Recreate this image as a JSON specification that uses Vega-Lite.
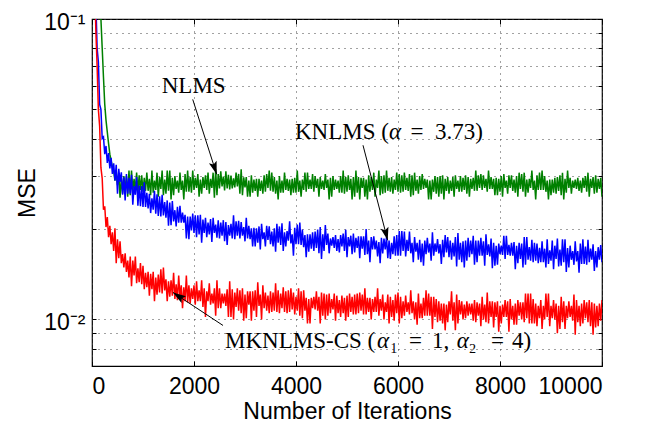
{
"$schema": "https://vega.github.io/schema/vega-lite/v6.json",
"width": 510,
"height": 347,
"autosize": {"type": "none"},
"padding": {"left": 92, "top": 19, "right": 56, "bottom": 59},
"background": "white",
"config": {"view": {"stroke": "black", "strokeWidth": 1.2}, "font": "Liberation Sans"},
"datasets": {
"mse": [
{"i":0,"nlms":0.6,"knlms":0.5,"mk":0.45},
{"i":25,"nlms":0.45,"knlms":0.3,"mk":0.25},
{"i":50,"nlms":0.35,"knlms":0.17,"mk":0.14},
{"i":75,"nlms":0.27,"knlms":0.115,"mk":0.092},
{"i":100,"nlms":0.21,"knlms":0.08,"mk":0.07},
{"i":125,"nlms":0.165,"knlms":0.072,"mk":0.05},
{"i":150,"nlms":0.13,"knlms":0.052,"mk":0.044},
{"i":175,"nlms":0.1,"knlms":0.05,"mk":0.032},
{"i":200,"nlms":0.08,"knlms":0.04,"mk":0.0295},
{"i":225,"nlms":0.064,"knlms":0.0405,"mk":0.0232},
{"i":250,"nlms":0.052,"knlms":0.0355,"mk":0.0238},
{"i":275,"nlms":0.046,"knlms":0.0378,"mk":0.0203},
{"i":300,"nlms":0.042,"knlms":0.0332,"mk":0.0219},
{"i":325,"nlms":0.0385,"knlms":0.0358,"mk":0.0188},
{"i":350,"nlms":0.0355,"knlms":0.0318,"mk":0.0205},
{"i":375,"nlms":0.0338,"knlms":0.0345,"mk":0.0178},
{"i":400,"nlms":0.0322,"knlms":0.0305,"mk":0.0195},
{"i":425,"nlms":0.0312,"knlms":0.0331,"mk":0.0169},
{"i":450,"nlms":0.029,"knlms":0.029,"mk":0.0201},
{"i":475,"nlms":0.0311,"knlms":0.0327,"mk":0.0154},
{"i":500,"nlms":0.028,"knlms":0.0262,"mk":0.0185},
{"i":525,"nlms":0.0305,"knlms":0.0317,"mk":0.016},
{"i":550,"nlms":0.0254,"knlms":0.0287,"mk":0.0182},
{"i":575,"nlms":0.0296,"knlms":0.0309,"mk":0.0154},
{"i":600,"nlms":0.0262,"knlms":0.026,"mk":0.0165},
{"i":625,"nlms":0.03,"knlms":0.0297,"mk":0.0149},
{"i":650,"nlms":0.0268,"knlms":0.0249,"mk":0.0166},
{"i":675,"nlms":0.03,"knlms":0.0305,"mk":0.0144},
{"i":700,"nlms":0.0256,"knlms":0.0262,"mk":0.0157},
{"i":725,"nlms":0.0313,"knlms":0.0296,"mk":0.0138},
{"i":750,"nlms":0.0259,"knlms":0.0262,"mk":0.0162},
{"i":775,"nlms":0.0313,"knlms":0.0303,"mk":0.0129},
{"i":800,"nlms":0.0268,"knlms":0.0241,"mk":0.0157},
{"i":825,"nlms":0.0294,"knlms":0.0278,"mk":0.014},
{"i":850,"nlms":0.0268,"knlms":0.026,"mk":0.0162},
{"i":875,"nlms":0.0308,"knlms":0.0298,"mk":0.0132},
{"i":900,"nlms":0.0266,"knlms":0.0239,"mk":0.0148},
{"i":925,"nlms":0.0302,"knlms":0.0279,"mk":0.0133},
{"i":950,"nlms":0.027,"knlms":0.0238,"mk":0.0154},
{"i":975,"nlms":0.0302,"knlms":0.0278,"mk":0.0131},
{"i":1000,"nlms":0.0266,"knlms":0.0237,"mk":0.0151},
{"i":1025,"nlms":0.0296,"knlms":0.0286,"mk":0.0126},
{"i":1050,"nlms":0.0268,"knlms":0.0237,"mk":0.0143},
{"i":1075,"nlms":0.0308,"knlms":0.0264,"mk":0.0128},
{"i":1100,"nlms":0.0268,"knlms":0.0234,"mk":0.0144},
{"i":1125,"nlms":0.0294,"knlms":0.0262,"mk":0.012},
{"i":1150,"nlms":0.0259,"knlms":0.0226,"mk":0.0142},
{"i":1175,"nlms":0.0313,"knlms":0.0253,"mk":0.0126},
{"i":1200,"nlms":0.0264,"knlms":0.0232,"mk":0.0144},
{"i":1225,"nlms":0.029,"knlms":0.0268,"mk":0.0115},
{"i":1250,"nlms":0.027,"knlms":0.0225,"mk":0.0138},
{"i":1275,"nlms":0.0308,"knlms":0.0261,"mk":0.0121},
{"i":1300,"nlms":0.0256,"knlms":0.0221,"mk":0.0141},
{"i":1325,"nlms":0.0298,"knlms":0.0257,"mk":0.0123},
{"i":1350,"nlms":0.0272,"knlms":0.022,"mk":0.0147},
{"i":1375,"nlms":0.0313,"knlms":0.026,"mk":0.0122},
{"i":1400,"nlms":0.0259,"knlms":0.0222,"mk":0.0149},
{"i":1425,"nlms":0.0292,"knlms":0.0246,"mk":0.0125},
{"i":1450,"nlms":0.0262,"knlms":0.0218,"mk":0.0136},
{"i":1475,"nlms":0.0313,"knlms":0.0249,"mk":0.0115},
{"i":1500,"nlms":0.0268,"knlms":0.0205,"mk":0.0134},
{"i":1525,"nlms":0.0313,"knlms":0.0245,"mk":0.0119},
{"i":1550,"nlms":0.0251,"knlms":0.0206,"mk":0.0135},
{"i":1575,"nlms":0.0296,"knlms":0.0248,"mk":0.012},
{"i":1600,"nlms":0.0259,"knlms":0.0212,"mk":0.0143},
{"i":1625,"nlms":0.03,"knlms":0.0231,"mk":0.0117},
{"i":1650,"nlms":0.0272,"knlms":0.0204,"mk":0.0131},
{"i":1675,"nlms":0.029,"knlms":0.0237,"mk":0.0116},
{"i":1700,"nlms":0.0264,"knlms":0.021,"mk":0.014},
{"i":1725,"nlms":0.0308,"knlms":0.0239,"mk":0.0119},
{"i":1750,"nlms":0.027,"knlms":0.021,"mk":0.013},
{"i":1775,"nlms":0.029,"knlms":0.0227,"mk":0.0109},
{"i":1800,"nlms":0.0251,"knlms":0.021,"mk":0.0128},
{"i":1825,"nlms":0.0305,"knlms":0.0223,"mk":0.0115},
{"i":1850,"nlms":0.0266,"knlms":0.0186,"mk":0.014},
{"i":1875,"nlms":0.0313,"knlms":0.022,"mk":0.0114},
{"i":1900,"nlms":0.0266,"knlms":0.0185,"mk":0.013},
{"i":1925,"nlms":0.0298,"knlms":0.022,"mk":0.0113},
{"i":1950,"nlms":0.0264,"knlms":0.0198,"mk":0.0127},
{"i":1975,"nlms":0.0313,"knlms":0.0225,"mk":0.0117},
{"i":2000,"nlms":0.027,"knlms":0.0194,"mk":0.013},
{"i":2025,"nlms":0.0296,"knlms":0.0222,"mk":0.0112},
{"i":2050,"nlms":0.0274,"knlms":0.0188,"mk":0.0134},
{"i":2075,"nlms":0.0305,"knlms":0.0222,"mk":0.0115},
{"i":2100,"nlms":0.0256,"knlms":0.0192,"mk":0.0125},
{"i":2125,"nlms":0.0292,"knlms":0.0223,"mk":0.0115},
{"i":2150,"nlms":0.0262,"knlms":0.018,"mk":0.0135},
{"i":2175,"nlms":0.0298,"knlms":0.0215,"mk":0.011},
{"i":2200,"nlms":0.0274,"knlms":0.0194,"mk":0.0127},
{"i":2225,"nlms":0.0302,"knlms":0.0218,"mk":0.0102},
{"i":2250,"nlms":0.027,"knlms":0.0188,"mk":0.0124},
{"i":2275,"nlms":0.0308,"knlms":0.021,"mk":0.0115},
{"i":2300,"nlms":0.0262,"knlms":0.0192,"mk":0.0132},
{"i":2325,"nlms":0.0294,"knlms":0.0216,"mk":0.0112},
{"i":2350,"nlms":0.0274,"knlms":0.0181,"mk":0.0122},
{"i":2375,"nlms":0.0308,"knlms":0.0218,"mk":0.0113},
{"i":2400,"nlms":0.0254,"knlms":0.0194,"mk":0.0127},
{"i":2425,"nlms":0.0316,"knlms":0.0207,"mk":0.0103},
{"i":2450,"nlms":0.0259,"knlms":0.0187,"mk":0.0135},
{"i":2475,"nlms":0.0305,"knlms":0.0214,"mk":0.0109},
{"i":2500,"nlms":0.0273,"knlms":0.0186,"mk":0.0127},
{"i":2525,"nlms":0.0311,"knlms":0.021,"mk":0.0109},
{"i":2550,"nlms":0.0277,"knlms":0.019,"mk":0.0122},
{"i":2575,"nlms":0.0299,"knlms":0.0214,"mk":0.0113},
{"i":2600,"nlms":0.0269,"knlms":0.0182,"mk":0.0122},
{"i":2625,"nlms":0.0311,"knlms":0.0211,"mk":0.0111},
{"i":2650,"nlms":0.0273,"knlms":0.0177,"mk":0.0126},
{"i":2675,"nlms":0.0303,"knlms":0.0206,"mk":0.0102},
{"i":2700,"nlms":0.0271,"knlms":0.019,"mk":0.0134},
{"i":2725,"nlms":0.0301,"knlms":0.0208,"mk":0.0102},
{"i":2750,"nlms":0.0273,"knlms":0.0186,"mk":0.0126},
{"i":2775,"nlms":0.0295,"knlms":0.0222,"mk":0.01},
{"i":2800,"nlms":0.0275,"knlms":0.0185,"mk":0.0123},
{"i":2825,"nlms":0.0308,"knlms":0.0212,"mk":0.011},
{"i":2850,"nlms":0.0277,"knlms":0.019,"mk":0.0127},
{"i":2875,"nlms":0.0305,"knlms":0.0213,"mk":0.0107},
{"i":2900,"nlms":0.0262,"knlms":0.0186,"mk":0.0125},
{"i":2925,"nlms":0.0316,"knlms":0.0211,"mk":0.0105},
{"i":2950,"nlms":0.0259,"knlms":0.019,"mk":0.0127},
{"i":2975,"nlms":0.0297,"knlms":0.0203,"mk":0.0099},
{"i":3000,"nlms":0.0275,"knlms":0.0182,"mk":0.0121},
{"i":3025,"nlms":0.0298,"knlms":0.0218,"mk":0.0101},
{"i":3050,"nlms":0.0256,"knlms":0.0186,"mk":0.0124},
{"i":3075,"nlms":0.029,"knlms":0.0205,"mk":0.0112},
{"i":3100,"nlms":0.0256,"knlms":0.0185,"mk":0.0124},
{"i":3125,"nlms":0.0302,"knlms":0.0201,"mk":0.0099},
{"i":3150,"nlms":0.0264,"knlms":0.0175,"mk":0.0124},
{"i":3175,"nlms":0.0292,"knlms":0.0202,"mk":0.0107},
{"i":3200,"nlms":0.0268,"knlms":0.0175,"mk":0.0125},
{"i":3225,"nlms":0.0294,"knlms":0.0201,"mk":0.0102},
{"i":3250,"nlms":0.0256,"knlms":0.018,"mk":0.0133},
{"i":3275,"nlms":0.0294,"knlms":0.0204,"mk":0.0111},
{"i":3300,"nlms":0.0268,"knlms":0.0171,"mk":0.0121},
{"i":3325,"nlms":0.029,"knlms":0.0208,"mk":0.01},
{"i":3350,"nlms":0.0262,"knlms":0.0185,"mk":0.013},
{"i":3375,"nlms":0.0302,"knlms":0.0195,"mk":0.0109},
{"i":3400,"nlms":0.0266,"knlms":0.0175,"mk":0.0123},
{"i":3425,"nlms":0.0305,"knlms":0.0205,"mk":0.0107},
{"i":3450,"nlms":0.0274,"knlms":0.0184,"mk":0.012},
{"i":3475,"nlms":0.0313,"knlms":0.0204,"mk":0.0105},
{"i":3500,"nlms":0.0268,"knlms":0.0178,"mk":0.0124},
{"i":3525,"nlms":0.0308,"knlms":0.0196,"mk":0.0106},
{"i":3550,"nlms":0.0266,"knlms":0.0175,"mk":0.0123},
{"i":3575,"nlms":0.0298,"knlms":0.0201,"mk":0.0107},
{"i":3600,"nlms":0.0262,"knlms":0.0168,"mk":0.0132},
{"i":3625,"nlms":0.029,"knlms":0.0208,"mk":0.0106},
{"i":3650,"nlms":0.0251,"knlms":0.018,"mk":0.0125},
{"i":3675,"nlms":0.03,"knlms":0.0204,"mk":0.0105},
{"i":3700,"nlms":0.0264,"knlms":0.0177,"mk":0.0122},
{"i":3725,"nlms":0.029,"knlms":0.0209,"mk":0.0109},
{"i":3750,"nlms":0.0264,"knlms":0.0169,"mk":0.0128},
{"i":3775,"nlms":0.0308,"knlms":0.0195,"mk":0.0106},
{"i":3800,"nlms":0.027,"knlms":0.0175,"mk":0.0124},
{"i":3825,"nlms":0.0294,"knlms":0.0197,"mk":0.0105},
{"i":3850,"nlms":0.0268,"knlms":0.0183,"mk":0.0125},
{"i":3875,"nlms":0.0292,"knlms":0.0212,"mk":0.0106},
{"i":3900,"nlms":0.0259,"knlms":0.0179,"mk":0.0127},
{"i":3925,"nlms":0.0294,"knlms":0.0192,"mk":0.0108},
{"i":3950,"nlms":0.0264,"knlms":0.0163,"mk":0.0123},
{"i":3975,"nlms":0.0296,"knlms":0.0202,"mk":0.0104},
{"i":4000,"nlms":0.0264,"knlms":0.0178,"mk":0.0119},
{"i":4025,"nlms":0.0313,"knlms":0.0207,"mk":0.0107},
{"i":4050,"nlms":0.0266,"knlms":0.0178,"mk":0.0127},
{"i":4075,"nlms":0.029,"knlms":0.021,"mk":0.0103},
{"i":4100,"nlms":0.0256,"knlms":0.0177,"mk":0.0124},
{"i":4125,"nlms":0.0292,"knlms":0.0199,"mk":0.0101},
{"i":4150,"nlms":0.027,"knlms":0.0174,"mk":0.0125},
{"i":4175,"nlms":0.0308,"knlms":0.0191,"mk":0.0107},
{"i":4200,"nlms":0.0266,"knlms":0.0161,"mk":0.0118},
{"i":4225,"nlms":0.0308,"knlms":0.0192,"mk":0.0097},
{"i":4250,"nlms":0.0272,"knlms":0.0168,"mk":0.0117},
{"i":4275,"nlms":0.0292,"knlms":0.0192,"mk":0.0097},
{"i":4300,"nlms":0.0272,"knlms":0.0172,"mk":0.0118},
{"i":4325,"nlms":0.0305,"knlms":0.0195,"mk":0.0109},
{"i":4350,"nlms":0.0266,"knlms":0.0169,"mk":0.0119},
{"i":4375,"nlms":0.03,"knlms":0.0196,"mk":0.0108},
{"i":4400,"nlms":0.0274,"knlms":0.0173,"mk":0.0124},
{"i":4425,"nlms":0.0294,"knlms":0.0199,"mk":0.0107},
{"i":4450,"nlms":0.0256,"knlms":0.0166,"mk":0.0119},
{"i":4475,"nlms":0.0298,"knlms":0.0203,"mk":0.0097},
{"i":4500,"nlms":0.0272,"knlms":0.0159,"mk":0.0123},
{"i":4525,"nlms":0.029,"knlms":0.0192,"mk":0.0103},
{"i":4550,"nlms":0.027,"knlms":0.0169,"mk":0.0122},
{"i":4575,"nlms":0.0305,"knlms":0.0206,"mk":0.01},
{"i":4600,"nlms":0.0274,"knlms":0.0177,"mk":0.0121},
{"i":4625,"nlms":0.0292,"knlms":0.0193,"mk":0.0103},
{"i":4650,"nlms":0.0251,"knlms":0.0166,"mk":0.0122},
{"i":4675,"nlms":0.0296,"knlms":0.0186,"mk":0.0105},
{"i":4700,"nlms":0.0256,"knlms":0.0176,"mk":0.0117},
{"i":4725,"nlms":0.03,"knlms":0.0188,"mk":0.0108},
{"i":4750,"nlms":0.027,"knlms":0.0173,"mk":0.0122},
{"i":4775,"nlms":0.0292,"knlms":0.0191,"mk":0.0099},
{"i":4800,"nlms":0.0272,"knlms":0.0169,"mk":0.012},
{"i":4825,"nlms":0.029,"knlms":0.0185,"mk":0.0105},
{"i":4850,"nlms":0.0264,"knlms":0.0167,"mk":0.0116},
{"i":4875,"nlms":0.03,"knlms":0.0191,"mk":0.0102},
{"i":4900,"nlms":0.0264,"knlms":0.0175,"mk":0.012},
{"i":4925,"nlms":0.0313,"knlms":0.0193,"mk":0.0105},
{"i":4950,"nlms":0.0262,"knlms":0.0169,"mk":0.0118},
{"i":4975,"nlms":0.0298,"knlms":0.0199,"mk":0.0099},
{"i":5000,"nlms":0.0266,"knlms":0.0161,"mk":0.012},
{"i":5025,"nlms":0.0302,"knlms":0.0188,"mk":0.0102},
{"i":5050,"nlms":0.027,"knlms":0.0175,"mk":0.0122},
{"i":5075,"nlms":0.0294,"knlms":0.019,"mk":0.0106},
{"i":5100,"nlms":0.0251,"knlms":0.0165,"mk":0.0119},
{"i":5125,"nlms":0.0298,"knlms":0.0193,"mk":0.0104},
{"i":5150,"nlms":0.0256,"knlms":0.0167,"mk":0.0121},
{"i":5175,"nlms":0.0313,"knlms":0.0187,"mk":0.0104},
{"i":5200,"nlms":0.0264,"knlms":0.0173,"mk":0.0122},
{"i":5225,"nlms":0.0298,"knlms":0.0189,"mk":0.0105},
{"i":5250,"nlms":0.0251,"knlms":0.016,"mk":0.0123},
{"i":5275,"nlms":0.0296,"knlms":0.0189,"mk":0.0107},
{"i":5300,"nlms":0.0274,"knlms":0.0172,"mk":0.0121},
{"i":5325,"nlms":0.0296,"knlms":0.0189,"mk":0.0104},
{"i":5350,"nlms":0.0256,"knlms":0.0164,"mk":0.0127},
{"i":5375,"nlms":0.0292,"knlms":0.02,"mk":0.0104},
{"i":5400,"nlms":0.0251,"knlms":0.0165,"mk":0.0118},
{"i":5425,"nlms":0.0302,"knlms":0.0183,"mk":0.0106},
{"i":5450,"nlms":0.0266,"knlms":0.0155,"mk":0.0118},
{"i":5475,"nlms":0.0298,"knlms":0.0188,"mk":0.01},
{"i":5500,"nlms":0.027,"knlms":0.0171,"mk":0.0117},
{"i":5525,"nlms":0.0308,"knlms":0.0189,"mk":0.0106},
{"i":5550,"nlms":0.0256,"knlms":0.0171,"mk":0.0119},
{"i":5575,"nlms":0.0292,"knlms":0.0183,"mk":0.0106},
{"i":5600,"nlms":0.0274,"knlms":0.0162,"mk":0.0127},
{"i":5625,"nlms":0.0313,"knlms":0.0181,"mk":0.0103},
{"i":5650,"nlms":0.0259,"knlms":0.0154,"mk":0.0117},
{"i":5675,"nlms":0.03,"knlms":0.0187,"mk":0.0107},
{"i":5700,"nlms":0.0262,"knlms":0.0166,"mk":0.0121},
{"i":5725,"nlms":0.0302,"knlms":0.0186,"mk":0.01},
{"i":5750,"nlms":0.0264,"knlms":0.0171,"mk":0.0114},
{"i":5775,"nlms":0.0313,"knlms":0.0188,"mk":0.0106},
{"i":5800,"nlms":0.0268,"knlms":0.016,"mk":0.0121},
{"i":5825,"nlms":0.0296,"knlms":0.0183,"mk":0.0097},
{"i":5850,"nlms":0.0266,"knlms":0.0159,"mk":0.0119},
{"i":5875,"nlms":0.0298,"knlms":0.018,"mk":0.0102},
{"i":5900,"nlms":0.0262,"knlms":0.0165,"mk":0.0116},
{"i":5925,"nlms":0.0292,"knlms":0.0189,"mk":0.0099},
{"i":5950,"nlms":0.027,"knlms":0.0163,"mk":0.0121},
{"i":5975,"nlms":0.0308,"knlms":0.0191,"mk":0.0105},
{"i":6000,"nlms":0.0266,"knlms":0.0163,"mk":0.0123},
{"i":6025,"nlms":0.0305,"knlms":0.0197,"mk":0.0097},
{"i":6050,"nlms":0.0264,"knlms":0.0163,"mk":0.0119},
{"i":6075,"nlms":0.0302,"knlms":0.0197,"mk":0.0101},
{"i":6100,"nlms":0.0266,"knlms":0.0169,"mk":0.0115},
{"i":6125,"nlms":0.0308,"knlms":0.0196,"mk":0.0103},
{"i":6150,"nlms":0.027,"knlms":0.0162,"mk":0.012},
{"i":6175,"nlms":0.0296,"knlms":0.0184,"mk":0.0106},
{"i":6200,"nlms":0.0268,"knlms":0.0169,"mk":0.0114},
{"i":6225,"nlms":0.0305,"knlms":0.0196,"mk":0.0104},
{"i":6250,"nlms":0.0256,"knlms":0.0166,"mk":0.0125},
{"i":6275,"nlms":0.0302,"knlms":0.018,"mk":0.0105},
{"i":6300,"nlms":0.0259,"knlms":0.0155,"mk":0.0115},
{"i":6325,"nlms":0.0308,"knlms":0.0188,"mk":0.01},
{"i":6350,"nlms":0.0268,"knlms":0.0168,"mk":0.0114},
{"i":6375,"nlms":0.0292,"knlms":0.018,"mk":0.0096},
{"i":6400,"nlms":0.0262,"knlms":0.0158,"mk":0.0122},
{"i":6425,"nlms":0.03,"knlms":0.0184,"mk":0.0101},
{"i":6450,"nlms":0.027,"knlms":0.0155,"mk":0.0113},
{"i":6475,"nlms":0.0305,"knlms":0.0179,"mk":0.0101},
{"i":6500,"nlms":0.0272,"knlms":0.0151,"mk":0.0118},
{"i":6525,"nlms":0.0294,"knlms":0.0183,"mk":0.0103},
{"i":6550,"nlms":0.0274,"knlms":0.0165,"mk":0.0125},
{"i":6575,"nlms":0.0292,"knlms":0.0187,"mk":0.0103},
{"i":6600,"nlms":0.0251,"knlms":0.0167,"mk":0.0122},
{"i":6625,"nlms":0.029,"knlms":0.0179,"mk":0.0103},
{"i":6650,"nlms":0.0251,"knlms":0.0157,"mk":0.0119},
{"i":6675,"nlms":0.0292,"knlms":0.0195,"mk":0.0093},
{"i":6700,"nlms":0.0266,"knlms":0.0163,"mk":0.0119},
{"i":6725,"nlms":0.03,"knlms":0.0179,"mk":0.0102},
{"i":6750,"nlms":0.0262,"knlms":0.0168,"mk":0.0117},
{"i":6775,"nlms":0.0298,"knlms":0.0185,"mk":0.0098},
{"i":6800,"nlms":0.0256,"knlms":0.0166,"mk":0.0115},
{"i":6825,"nlms":0.03,"knlms":0.0178,"mk":0.0099},
{"i":6850,"nlms":0.0262,"knlms":0.0153,"mk":0.0113},
{"i":6875,"nlms":0.0302,"knlms":0.0184,"mk":0.0097},
{"i":6900,"nlms":0.0251,"knlms":0.0161,"mk":0.0113},
{"i":6925,"nlms":0.0294,"knlms":0.0191,"mk":0.0092},
{"i":6950,"nlms":0.0268,"knlms":0.0167,"mk":0.0112},
{"i":6975,"nlms":0.0298,"knlms":0.0188,"mk":0.0098},
{"i":7000,"nlms":0.0262,"knlms":0.0161,"mk":0.0115},
{"i":7025,"nlms":0.029,"knlms":0.0183,"mk":0.0104},
{"i":7050,"nlms":0.0268,"knlms":0.0158,"mk":0.0124},
{"i":7075,"nlms":0.0298,"knlms":0.018,"mk":0.0099},
{"i":7100,"nlms":0.0256,"knlms":0.0162,"mk":0.0114},
{"i":7125,"nlms":0.0302,"knlms":0.0188,"mk":0.0092},
{"i":7150,"nlms":0.0272,"knlms":0.015,"mk":0.0121},
{"i":7175,"nlms":0.029,"knlms":0.0194,"mk":0.0097},
{"i":7200,"nlms":0.0266,"knlms":0.0158,"mk":0.0116},
{"i":7225,"nlms":0.03,"knlms":0.018,"mk":0.0104},
{"i":7250,"nlms":0.0266,"knlms":0.0155,"mk":0.0115},
{"i":7275,"nlms":0.0296,"knlms":0.0182,"mk":0.01},
{"i":7300,"nlms":0.027,"knlms":0.0149,"mk":0.0112},
{"i":7325,"nlms":0.0302,"knlms":0.0183,"mk":0.0101},
{"i":7350,"nlms":0.0262,"knlms":0.0157,"mk":0.0115},
{"i":7375,"nlms":0.0298,"knlms":0.0187,"mk":0.0103},
{"i":7400,"nlms":0.0256,"knlms":0.0161,"mk":0.0113},
{"i":7425,"nlms":0.0294,"knlms":0.0183,"mk":0.0104},
{"i":7450,"nlms":0.0272,"knlms":0.0165,"mk":0.0113},
{"i":7475,"nlms":0.0296,"knlms":0.019,"mk":0.0099},
{"i":7500,"nlms":0.0268,"knlms":0.0152,"mk":0.0116},
{"i":7525,"nlms":0.0313,"knlms":0.0183,"mk":0.0098},
{"i":7550,"nlms":0.0268,"knlms":0.0155,"mk":0.0114},
{"i":7575,"nlms":0.0302,"knlms":0.0183,"mk":0.0103},
{"i":7600,"nlms":0.0274,"knlms":0.0163,"mk":0.0113},
{"i":7625,"nlms":0.0305,"knlms":0.0187,"mk":0.0095},
{"i":7650,"nlms":0.027,"knlms":0.0163,"mk":0.0119},
{"i":7675,"nlms":0.0302,"knlms":0.0182,"mk":0.01},
{"i":7700,"nlms":0.0274,"knlms":0.0151,"mk":0.0112},
{"i":7725,"nlms":0.0294,"knlms":0.0192,"mk":0.0098},
{"i":7750,"nlms":0.0266,"knlms":0.0164,"mk":0.0123},
{"i":7775,"nlms":0.0313,"knlms":0.0178,"mk":0.0097},
{"i":7800,"nlms":0.0272,"knlms":0.0162,"mk":0.0115},
{"i":7825,"nlms":0.0298,"knlms":0.0186,"mk":0.0102},
{"i":7850,"nlms":0.0272,"knlms":0.0148,"mk":0.0115},
{"i":7875,"nlms":0.0294,"knlms":0.018,"mk":0.0094},
{"i":7900,"nlms":0.0259,"knlms":0.0151,"mk":0.0114},
{"i":7925,"nlms":0.0296,"knlms":0.0176,"mk":0.0102},
{"i":7950,"nlms":0.0259,"knlms":0.0152,"mk":0.0115},
{"i":7975,"nlms":0.0294,"knlms":0.0179,"mk":0.0091},
{"i":8000,"nlms":0.0266,"knlms":0.0165,"mk":0.0111},
{"i":8025,"nlms":0.03,"knlms":0.0176,"mk":0.0097},
{"i":8050,"nlms":0.0256,"knlms":0.0164,"mk":0.0112},
{"i":8075,"nlms":0.0305,"knlms":0.019,"mk":0.0102},
{"i":8100,"nlms":0.0274,"knlms":0.0159,"mk":0.0116},
{"i":8125,"nlms":0.029,"knlms":0.019,"mk":0.0102},
{"i":8150,"nlms":0.0262,"knlms":0.0164,"mk":0.0115},
{"i":8175,"nlms":0.0302,"knlms":0.0177,"mk":0.0091},
{"i":8200,"nlms":0.0274,"knlms":0.0163,"mk":0.0117},
{"i":8225,"nlms":0.0302,"knlms":0.018,"mk":0.01},
{"i":8250,"nlms":0.0268,"knlms":0.0163,"mk":0.0111},
{"i":8275,"nlms":0.0292,"knlms":0.0181,"mk":0.0096},
{"i":8300,"nlms":0.0264,"knlms":0.0147,"mk":0.0113},
{"i":8325,"nlms":0.03,"knlms":0.0176,"mk":0.0096},
{"i":8350,"nlms":0.0256,"knlms":0.0154,"mk":0.0116},
{"i":8375,"nlms":0.0308,"knlms":0.018,"mk":0.0103},
{"i":8400,"nlms":0.0272,"knlms":0.0159,"mk":0.0114},
{"i":8425,"nlms":0.0305,"knlms":0.0179,"mk":0.01},
{"i":8450,"nlms":0.0266,"knlms":0.0149,"mk":0.0114},
{"i":8475,"nlms":0.0308,"knlms":0.0188,"mk":0.0098},
{"i":8500,"nlms":0.0256,"knlms":0.0152,"mk":0.0122},
{"i":8525,"nlms":0.0292,"knlms":0.0188,"mk":0.0101},
{"i":8550,"nlms":0.0264,"knlms":0.0158,"mk":0.0122},
{"i":8575,"nlms":0.0294,"knlms":0.0174,"mk":0.0097},
{"i":8600,"nlms":0.0274,"knlms":0.0157,"mk":0.0122},
{"i":8625,"nlms":0.0313,"knlms":0.0184,"mk":0.0097},
{"i":8650,"nlms":0.027,"knlms":0.0155,"mk":0.0117},
{"i":8675,"nlms":0.029,"knlms":0.018,"mk":0.0097},
{"i":8700,"nlms":0.0251,"knlms":0.0157,"mk":0.0113},
{"i":8725,"nlms":0.0302,"knlms":0.0179,"mk":0.0095},
{"i":8750,"nlms":0.027,"knlms":0.0154,"mk":0.0111},
{"i":8775,"nlms":0.0308,"knlms":0.0173,"mk":0.0101},
{"i":8800,"nlms":0.027,"knlms":0.0155,"mk":0.0116},
{"i":8825,"nlms":0.0313,"knlms":0.0182,"mk":0.0093},
{"i":8850,"nlms":0.027,"knlms":0.0155,"mk":0.0111},
{"i":8875,"nlms":0.03,"knlms":0.0172,"mk":0.01},
{"i":8900,"nlms":0.0266,"knlms":0.0149,"mk":0.0122},
{"i":8925,"nlms":0.029,"knlms":0.0185,"mk":0.0102},
{"i":8950,"nlms":0.0251,"knlms":0.0153,"mk":0.0122},
{"i":8975,"nlms":0.0292,"knlms":0.017,"mk":0.0095},
{"i":9000,"nlms":0.0259,"knlms":0.0157,"mk":0.0111},
{"i":9025,"nlms":0.0292,"knlms":0.0183,"mk":0.0101},
{"i":9050,"nlms":0.0264,"knlms":0.0147,"mk":0.0116},
{"i":9075,"nlms":0.0296,"knlms":0.0176,"mk":0.01},
{"i":9100,"nlms":0.0262,"knlms":0.0159,"mk":0.0113},
{"i":9125,"nlms":0.0298,"knlms":0.0186,"mk":0.009},
{"i":9150,"nlms":0.0268,"knlms":0.015,"mk":0.0111},
{"i":9175,"nlms":0.0302,"knlms":0.0171,"mk":0.0093},
{"i":9200,"nlms":0.0259,"knlms":0.0151,"mk":0.0119},
{"i":9225,"nlms":0.0308,"knlms":0.0185,"mk":0.0098},
{"i":9250,"nlms":0.0251,"knlms":0.0155,"mk":0.0115},
{"i":9275,"nlms":0.0294,"knlms":0.0185,"mk":0.0093},
{"i":9300,"nlms":0.0264,"knlms":0.0144,"mk":0.0111},
{"i":9325,"nlms":0.0313,"knlms":0.0173,"mk":0.0101},
{"i":9350,"nlms":0.0274,"knlms":0.0149,"mk":0.0115},
{"i":9375,"nlms":0.0296,"knlms":0.0176,"mk":0.0102},
{"i":9400,"nlms":0.0262,"knlms":0.0158,"mk":0.0111},
{"i":9425,"nlms":0.029,"knlms":0.0169,"mk":0.0099},
{"i":9450,"nlms":0.0274,"knlms":0.0152,"mk":0.0121},
{"i":9475,"nlms":0.0292,"knlms":0.0182,"mk":0.0089},
{"i":9500,"nlms":0.0272,"knlms":0.0156,"mk":0.0116},
{"i":9525,"nlms":0.0296,"knlms":0.0169,"mk":0.0098},
{"i":9550,"nlms":0.0268,"knlms":0.0143,"mk":0.0111},
{"i":9575,"nlms":0.029,"knlms":0.0179,"mk":0.0095},
{"i":9600,"nlms":0.0264,"knlms":0.0153,"mk":0.0113},
{"i":9625,"nlms":0.0296,"knlms":0.0185,"mk":0.0097},
{"i":9650,"nlms":0.0274,"knlms":0.0153,"mk":0.0116},
{"i":9675,"nlms":0.03,"knlms":0.0175,"mk":0.0101},
{"i":9700,"nlms":0.0266,"knlms":0.0152,"mk":0.0114},
{"i":9725,"nlms":0.0308,"knlms":0.0184,"mk":0.0098},
{"i":9750,"nlms":0.0256,"knlms":0.0155,"mk":0.0116},
{"i":9775,"nlms":0.0294,"knlms":0.0172,"mk":0.0095},
{"i":9800,"nlms":0.0274,"knlms":0.0158,"mk":0.0114},
{"i":9825,"nlms":0.0298,"knlms":0.0178,"mk":0.0089},
{"i":9850,"nlms":0.0262,"knlms":0.0145,"mk":0.0113},
{"i":9875,"nlms":0.0302,"knlms":0.0169,"mk":0.0094},
{"i":9900,"nlms":0.0264,"knlms":0.0149,"mk":0.0111},
{"i":9925,"nlms":0.0294,"knlms":0.0174,"mk":0.0095},
{"i":9950,"nlms":0.0272,"knlms":0.0158,"mk":0.0113},
{"i":9975,"nlms":0.0296,"knlms":0.0177,"mk":0.0099},
{"i":10000,"nlms":0.0256,"knlms":0.0155,"mk":0.0116}
],
"notes": [
{"label":"NLMS","i":1367,"v":0.0567},
{"label":"KNLMS (","i":3980,"v":0.0398},
{"label":"=","i":6245,"v":0.0398},
{"label":"3.73)","i":6725,"v":0.0398},
{"label":"MKNLMS-CS (","i":2608,"v":0.00802},
{"label":"₁","i":5843,"v":0.00802},
{"label":"=","i":6216,"v":0.00802},
{"label":"1,","i":6667,"v":0.00802},
{"label":"₂","i":7380,"v":0.00802},
{"label":"=","i":7824,"v":0.00802},
{"label":"4)","i":8235,"v":0.00802}
],
"greek": [
{"label":"α","i":5824,"v":0.0398},
{"label":"α","i":5588,"v":0.00802},
{"label":"α","i":7150,"v":0.00802}
],
"arrows": [
{"label":"NLMS","i":1975,"v":0.054,"i2":2445,"v2":0.0304},
{"label":"KNLMS","i":5314,"v":0.038,"i2":5798,"v2":0.01834},
{"label":"MKNLMS-CS","i":2569,"v":0.00955,"i2":1588,"v2":0.0123}
]
},
"resolve": {"axis": {"x": "independent", "y": "independent"}},
"layer": [
{
"data": {"name": "mse"},
"mark": {"type": "line", "color": "#008000", "strokeWidth": 1.5, "clip": true},
"encoding": {
"x": {"field": "i", "type": "quantitative", "scale": {"domain": [0, 10000], "nice": false, "zero": false},
"axis": {"orient": "bottom", "values": [0, 2000, 4000, 6000, 8000, 10000], "format": "d", "domain": false, "grid": true, "gridColor": "#444", "gridDash": [1, 5], "gridWidth": 1, "tickColor": "black", "tickSize": -5, "tickWidth": 1, "labelFont": "Liberation Sans", "labelFontSize": 23, "labelColor": "black", "labelPadding": 14, "title": "Number of Iterations", "titleFont": "Liberation Sans", "titleFontSize": 23, "titleFontWeight": "normal", "titleColor": "black", "titlePadding": 2}},
"y": {"field": "nlms", "type": "quantitative", "scale": {"type": "log", "domain": [0.007, 0.1], "nice": false},
"axis": {"orient": "left", "values": [0.008, 0.009, 0.01, 0.02, 0.03, 0.04, 0.05, 0.06, 0.07, 0.08, 0.09, 0.1], "labelExpr": "datum.value == 0.1 ? '10⁻¹' : (datum.value == 0.01 ? '10⁻²' : '')", "domain": false, "grid": true, "gridColor": "#444", "gridDash": [1, 5], "gridWidth": 1, "tickColor": "black", "tickSize": -4, "tickWidth": 1, "labelFont": "Liberation Sans", "labelFontSize": 23, "labelColor": "black", "labelPadding": 11, "labelOffset": 3, "title": "MSE", "titleFont": "Liberation Sans", "titleFontSize": 23, "titleFontWeight": "normal", "titleColor": "black", "titlePadding": 4}}
}
},
{
"data": {"name": "mse"},
"mark": {"type": "line", "color": "#0000ff", "strokeWidth": 1.5, "clip": true},
"encoding": {
"x": {"field": "i", "type": "quantitative", "axis": {"orient": "top", "values": [0, 2000, 4000, 6000, 8000, 10000], "labels": false, "grid": false, "domain": false, "tickSize": -5, "tickColor": "black", "title": null}},
"y": {"field": "knlms", "type": "quantitative", "axis": {"orient": "right", "values": [0.008, 0.009, 0.01, 0.02, 0.03, 0.04, 0.05, 0.06, 0.07, 0.08, 0.09, 0.1], "labels": false, "grid": false, "domain": false, "tickSize": -4, "tickColor": "black", "title": null}}
}
},
{
"data": {"name": "mse"},
"mark": {"type": "line", "color": "#ff0000", "strokeWidth": 1.5, "clip": true},
"encoding": {
"x": {"field": "i", "type": "quantitative", "axis": null},
"y": {"field": "mk", "type": "quantitative", "axis": null}
}
},
{
"data": {"name": "arrows"},
"mark": {"type": "rule", "color": "black", "strokeWidth": 1},
"encoding": {
"x": {"field": "i", "type": "quantitative", "axis": null},
"y": {"field": "v", "type": "quantitative", "axis": null},
"x2": {"field": "i2"},
"y2": {"field": "v2"}
}
},
{
"data": {"name": "arrows"},
"transform": [{"filter": "datum.label == 'NLMS'"}],
"mark": {"type": "point", "shape": "M0,0 L-0.5,-1.6 L0,-1.3 L0.5,-1.6 Z", "filled": true, "color": "black", "opacity": 1, "size": 260, "angle": -17.7},
"encoding": {
"x": {"field": "i2", "type": "quantitative", "axis": null},
"y": {"field": "v2", "type": "quantitative", "axis": null}
}
},
{
"data": {"name": "arrows"},
"transform": [{"filter": "datum.label == 'KNLMS'"}],
"mark": {"type": "point", "shape": "M0,0 L-0.5,-1.6 L0,-1.3 L0.5,-1.6 Z", "filled": true, "color": "black", "opacity": 1, "size": 260, "angle": -14.2},
"encoding": {
"x": {"field": "i2", "type": "quantitative", "axis": null},
"y": {"field": "v2", "type": "quantitative", "axis": null}
}
},
{
"data": {"name": "arrows"},
"transform": [{"filter": "datum.label == 'MKNLMS-CS'"}],
"mark": {"type": "point", "shape": "M0,0 L-0.5,-1.6 L0,-1.3 L0.5,-1.6 Z", "filled": true, "color": "black", "opacity": 1, "size": 260, "angle": 123.4},
"encoding": {
"x": {"field": "i2", "type": "quantitative", "axis": null},
"y": {"field": "v2", "type": "quantitative", "axis": null}
}
},
{
"data": {"name": "notes"},
"mark": {"type": "text", "align": "left", "baseline": "alphabetic", "font": "Liberation Serif", "fontSize": 23, "color": "black"},
"encoding": {
"x": {"field": "i", "type": "quantitative", "axis": null},
"y": {"field": "v", "type": "quantitative", "axis": null},
"text": {"field": "label"}
}
},
{
"data": {"name": "greek"},
"mark": {"type": "text", "align": "left", "baseline": "alphabetic", "font": "Liberation Serif", "fontStyle": "italic", "fontSize": 23, "color": "black"},
"encoding": {
"x": {"field": "i", "type": "quantitative", "axis": null},
"y": {"field": "v", "type": "quantitative", "axis": null},
"text": {"field": "label"}
}
}
]
}
